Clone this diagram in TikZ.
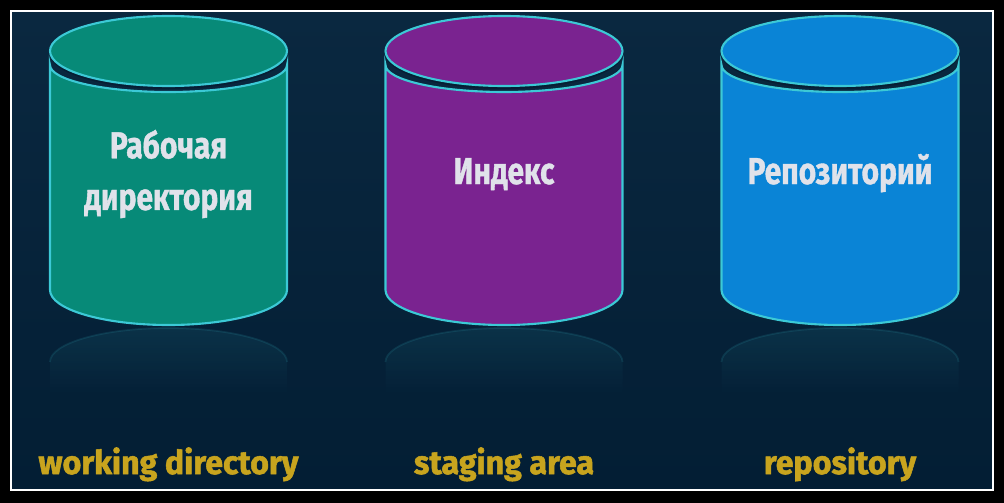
\documentclass[tikz,border=0pt]{standalone}
\usepackage{fontspec}
\usepackage{tikz}
\usetikzlibrary{fadings}
\newfontfamily\cylfont[FakeStretch=0.8, FakeBold=1]{Fira Sans}
\newfontfamily\tagfont[FakeStretch=0.98, FakeBold=1.6]{Fira Sans}
\definecolor{bgtop}{RGB}{10,40,64}
\definecolor{bgbot}{RGB}{3,30,52}
\definecolor{rimcol}{RGB}{60,201,214}
\definecolor{gapcol}{RGB}{6,30,52}
\definecolor{wdcol}{RGB}{7,138,120}
\definecolor{stcol}{RGB}{122,35,144}
\definecolor{rpcol}{RGB}{10,132,214}
\definecolor{namecol}{RGB}{224,226,234}
\definecolor{tagcol}{RGB}{200,164,30}
\newcommand{\dbcylinder}[2]{%
  \fill[reflect] (#1-118.5,395) -- (#1-118.5,362) arc[start angle=180, end angle=360, x radius=118.5, y radius=34] -- (#1+118.5,395) -- cycle;
  \draw[rimcol, opacity=0.12, line width=1.5pt] (#1-118.5,362) arc[start angle=180, end angle=360, x radius=118.5, y radius=34];
  \filldraw[rim, fill=#2] (#1-118.5,65) -- (#1-118.5,290) arc[start angle=180, end angle=0, x radius=118.5, y radius=35]
    -- (#1+118.5,65) arc[start angle=0, end angle=180, x radius=118.5, y radius=27] -- cycle;
  \fill[gapcol] (#1,54) ellipse[x radius=118.5, y radius=35];
  \filldraw[rim, fill=#2] (#1,51) ellipse[x radius=118.5, y radius=35];
}

\begin{document}
\begin{tikzpicture}[x=0.03cm, y=-0.03cm,
    rim/.style={draw=rimcol, line width=1.8pt},
    reflect/.style={fill=rimcol, fill opacity=0.1, path fading=south},
    cyltext/.style={text=namecol, font=\cylfont\bfseries\fontsize{32}{44}\selectfont, align=center},
    tagtext/.style={text=tagcol, font=\tagfont\bfseries\fontsize{28}{32}\selectfont, anchor=base}]
  \useasboundingbox (0,0) rectangle (1004,503);
  \fill[black] (0,0) rectangle (1004,503);
  \shade[top color=bgtop, bottom color=bgbot] (12,12) rectangle (992,489);
  \draw[white, line width=1.8pt] (11,11) rectangle (993,490);
  % cylinders
  \dbcylinder{168.5}{wdcol}
  \dbcylinder{504}{stcol}
  \dbcylinder{840}{rpcol}
  % names
  \node[cyltext] (wdname) at (168.5,174) {Рабочая\\директория};
  \node[cyltext, anchor=base] (stname) at (504,184) {Индекс};
  \node[cyltext, anchor=base] (rpname) at (840,184) {Репозиторий};
  % labels
  \node[tagtext] (wdtag) at (168.5,474) {working directory};
  \node[tagtext] (sttag) at (504,474) {staging area};
  \node[tagtext] (rptag) at (840,474) {repository};
\end{tikzpicture}
\end{document}
